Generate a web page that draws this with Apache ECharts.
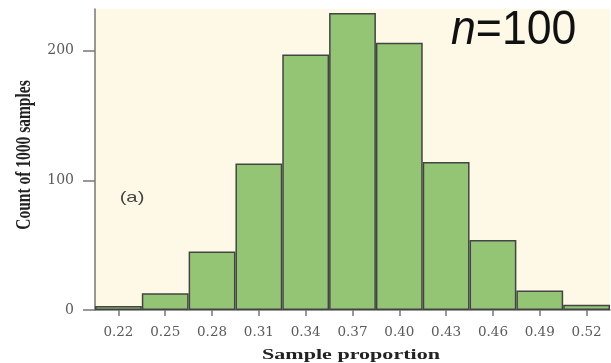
<!DOCTYPE html>
<html>
<head>
<meta charset="utf-8">
<script src="https://cdn.jsdelivr.net/npm/echarts@6/dist/echarts.min.js"></script>
<style>html,body{margin:0;padding:0;background:#fff;}#c{width:611px;height:363px;}</style>
</head>
<body>
<div id="c"></div>
<script>
var categories = ['0.22','0.25','0.28','0.31','0.34','0.37','0.40','0.43','0.46','0.49','0.52'];
var counts = [3, 13, 45, 113, 197, 229, 206, 114, 54, 15, 4];
var yTicks = [0, 100, 200];

var chart = echarts.init(document.getElementById('c'), null, {renderer: 'canvas'});
chart.setOption({
  animation: false,
  backgroundColor: '#ffffff',
  grid: {left: 95, right: 1, top: 9, bottom: 53, show: true, backgroundColor: '#FEF8E6', borderWidth: 0},
  xAxis: {
    type: 'category',
    data: categories,
    boundaryGap: true,
    axisLine: {show: true, lineStyle: {color: '#777', width: 1.5}},
    axisTick: {show: true, alignWithLabel: true, length: 6, lineStyle: {color: '#777', width: 1.5}},
    axisLabel: {fontFamily: 'DejaVu Serif', fontSize: 13.5, color: '#5a5a5a', margin: 15}
  },
  yAxis: {
    type: 'value',
    min: 0, max: 232, interval: 100,
    splitLine: {show: false},
    axisLine: {show: true, lineStyle: {color: '#777', width: 1.5}},
    axisTick: {show: true, length: 12, lineStyle: {color: '#777', width: 1.5}, customValues: yTicks},
    axisLabel: {fontFamily: 'DejaVu Serif', fontSize: 14, color: '#5a5a5a', margin: 21, customValues: yTicks}
  },
  series: [{
    type: 'bar',
    data: counts,
    barWidth: '100%',
    barCategoryGap: '0%',
    itemStyle: {color: '#93C574', borderColor: '#444', borderWidth: 1.5}
  }],
  graphic: [
    {type: 'text', x: 25, y: 155, rotation: Math.PI / 2, scaleY: 1.3,
     style: {text: 'Count of 1000 samples', font: 'bold 15.5px "Liberation Serif"', fill: '#222', align: 'center', verticalAlign: 'middle'}},
    {type: 'text', x: 351, y: 355, scaleX: 1.47,
     style: {text: 'Sample proportion', font: 'bold 15px "Liberation Serif"', fill: '#222', align: 'center', verticalAlign: 'middle'}},
    {type: 'text', x: 132, y: 198, scaleX: 1.35,
     style: {text: '(a)', font: '15px "Liberation Sans"', fill: '#444', align: 'center', verticalAlign: 'middle'}},
    {type: 'text', x: 451, y: 55, scaleX: 0.93,
     style: {text: '{i|n}{r|=100}', align: 'left', verticalAlign: 'bottom', fill: '#111',
       rich: {i: {fontStyle: 'italic', fontSize: 48, fontFamily: 'Liberation Sans', fill: '#111'},
              r: {fontSize: 48, fontFamily: 'Liberation Sans', fill: '#111'}}}}
  ]
});
</script>
</body>
</html>
